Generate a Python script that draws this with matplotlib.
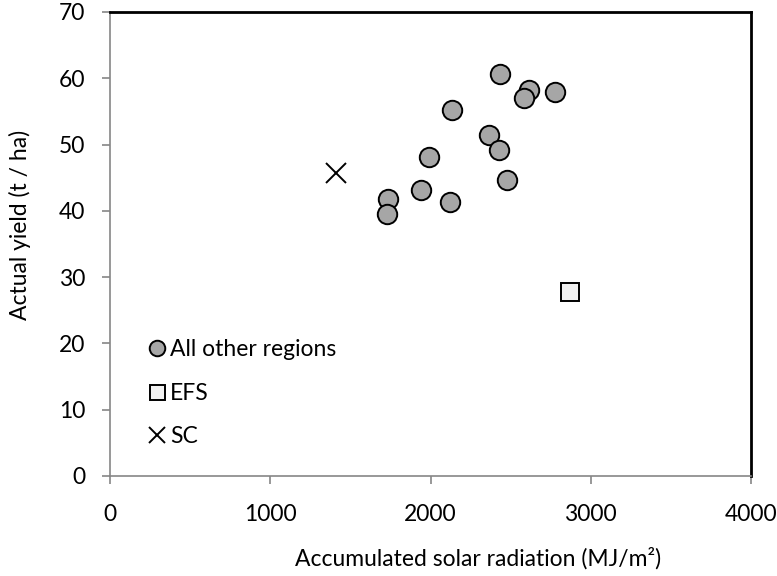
import matplotlib.pyplot as plt

# Accumulated solar radiation (MJ/m2) vs actual yield (t/ha)
other_x = [2436, 2617, 2582, 2775, 2136, 2363, 2430, 1993, 2475, 1941, 2122, 1733, 1729]
other_y = [60.6, 58.2, 57.0, 58.0, 55.2, 51.5, 49.2, 48.1, 44.7, 43.2, 41.4, 41.8, 39.6]
efs_x = [2869]
efs_y = [27.7]
sc_x = [1410]
sc_y = [45.7]

plt.rcParams['font.family'] = ['Lato', 'DejaVu Sans']

fig = plt.figure(figsize=(7.77, 5.76), dpi=100)
ax = fig.add_axes([110 / 777, 100 / 576, 641 / 777, 464 / 576])

ax.plot(other_x, other_y, 'o', ms=14, mfc='#a6a6a6', mec='black', mew=1.4,
        label='All other regions')
ax.plot(efs_x, efs_y, 's', ms=13.5, mfc='#f2f2f2', mec='black', mew=1.4, label='EFS')
ax.plot(sc_x, sc_y, 'x', ms=15, mec='black', mew=1.4, label='SC')

ax.set_xlim(0, 4000)
ax.set_ylim(0, 70)
ax.set_xticks([0, 1000, 2000, 3000, 4000])
ax.set_yticks(range(0, 71, 10))
ax.tick_params(direction='out', length=6, width=1.2, color='#868686', labelsize=16.5)
ax.tick_params(axis='x', pad=14)
ax.tick_params(axis='y', pad=12)

for s in ['left', 'bottom']:
    ax.spines[s].set_color('#868686')
    ax.spines[s].set_linewidth(1.2)
for s in ['top', 'right']:
    ax.spines[s].set_color('black')
    ax.spines[s].set_linewidth(2)

ax.set_xlabel('Accumulated solar radiation (MJ/m²)', fontsize=16.5, labelpad=16, x=0.574)
ax.set_ylabel('Actual yield (t / ha)', fontsize=16.5, labelpad=20, y=0.541)

ax.legend(loc='lower left', bbox_to_anchor=(0.022, 0.018), frameon=False, fontsize=16.5,
          handletextpad=0.0, labelspacing=0.98, handlelength=1.1, markerscale=0.8)

plt.savefig('out.png', dpi=100)
